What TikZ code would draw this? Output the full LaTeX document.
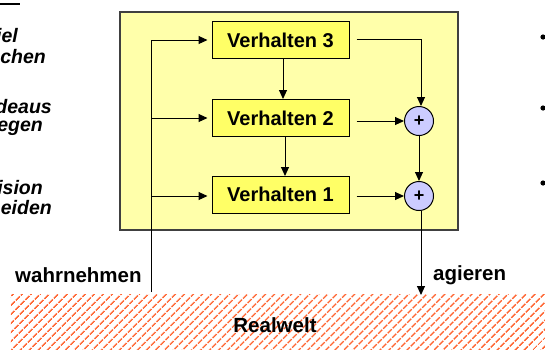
\documentclass[tikz,border=0pt]{standalone}
\usepackage{fontspec}
\setmainfont{Liberation Sans}
\usetikzlibrary{arrows.meta,patterns.meta}
\definecolor{outerY}{HTML}{FFFFAA}
\definecolor{innerY}{HTML}{FFFF66}
\definecolor{sumC}{HTML}{CCCCFF}
\definecolor{hatchC}{HTML}{FF6633}
\tikzset{
  beh/.style={draw=black, fill=innerY, line width=1pt, minimum width=137pt, minimum height=37pt, inner sep=0pt, font=\fontsize{20}{22}\selectfont\bfseries},
  sumnode/.style={circle, draw=black, fill=sumC, line width=1pt, minimum size=29pt, inner sep=0pt, font=\fontsize{18}{20}\selectfont\bfseries},
  arr/.style={-{Triangle[length=9pt,width=8pt]}, line width=1pt},
  lbl/.style={font=\fontsize{20.5}{22}\selectfont\bfseries, inner sep=0pt},
  side/.style={font=\fontsize{19.5}{21}\selectfont\bfseries\itshape, inner sep=0pt, anchor=base east},
}
\begin{document}
\begin{tikzpicture}[x=1pt,y=-1pt]
\useasboundingbox (0,0) rectangle (545,349);
\clip (0,0) rectangle (545,349);
% outer box
\node[draw=black!75, fill=outerY, line width=1.1pt, minimum width=338pt, minimum height=218pt, inner sep=0pt] (outer) at (289,121) {};
% behaviours
\node[beh] (v3) at (280.5,40) {Verhalten 3};
\node[beh] (v2) at (280.5,118) {Verhalten 2};
\node[beh] (v1) at (280.5,194.5) {Verhalten 1};
\node[sumnode] (s2) at (419,121) {+};
\node[sumnode] (s1) at (419,196) {+};
% real world band
\node[pattern={Lines[angle=45,distance=6.5pt,line width=1.8pt]}, pattern color=hatchC, minimum width=545pt, minimum height=56pt, inner sep=0pt, anchor=north west] (rw) at (10,294) {};
\node[lbl] (rwl) at (275,325) {Realwelt};
\node[lbl, anchor=west] (wahr) at (15,275) {wahrnehmen};
\node[lbl, anchor=west] (agi) at (433,275) {agieren};
% sensing line
\coordinate (sb) at (151,292);
\coordinate (st) at (151,40);
\coordinate (s3) at (151,118);
\coordinate (s1c) at (151,196);
\draw[line width=1pt] (sb) -- (st);
\draw[arr] (st) -- ([xshift=-4pt]v3.west);
\draw[arr] (s3) -- ([xshift=-4pt]v2.west);
\draw[arr] (s1c) -- ([xshift=-4pt]v1.west |- s1c);
% vertical chain
\draw[arr] (v3.south -| 283,0) -- (283,99);
\draw[arr] (v2.south -| 285,0) -- (285,176);
% outputs
\coordinate (c3) at (421,39);
\draw[arr] ([xshift=7pt]v3.east |- c3) -- (c3) -- (s2.north -| c3);
\draw[arr] ([xshift=7pt]v2.east |- s2) -- (s2.west);
\draw[arr] ([xshift=7pt]v1.east |- s1) -- (s1.west);
\draw[arr] (s2.south) -- (s1.north);
\coordinate (act) at (421,295);
\draw[arr] (s1.south -| act) -- (act);
% clipped side texts
\node[side] (t1) at (18,42) {iel};
\node[side] (t2) at (46,63) {chen};
\node[side] (t3) at (52,113) {deaus};
\node[side] (t4) at (43,131) {egen};
\node[side] (t5) at (43,194) {ision};
\node[side] (t6) at (52,214) {eiden};
\draw[line width=1.5pt] (0,4) -- (20,4);
% bullets
\fill (543,37) circle (2.6pt);
\fill (543,108) circle (2.6pt);
\fill (543,183) circle (2.6pt);
\end{tikzpicture}
\end{document}
